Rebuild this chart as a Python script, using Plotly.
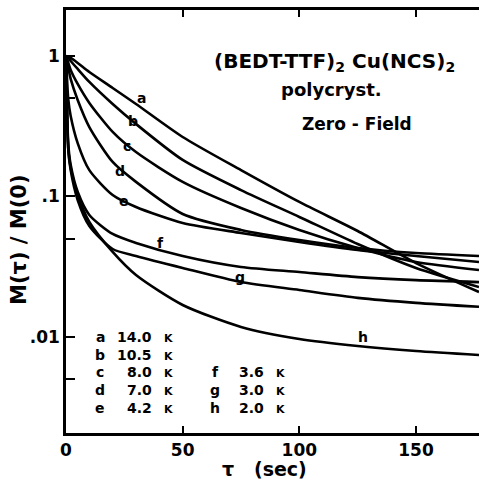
import plotly.graph_objects as go

# time (sec)
t = [0, 1, 2, 5, 10, 20, 30, 50, 75, 100, 125, 150, 177]

# M(tau)/M(0) for each temperature curve
curve_a = [1.0, 0.984, 0.968, 0.892, 0.769, 0.592, 0.455, 0.265, 0.154, 0.0914, 0.0568, 0.0336, 0.0209]
curve_b = [1.0, 0.968, 0.921, 0.808, 0.653, 0.455, 0.328, 0.182, 0.111, 0.0715, 0.0459, 0.0310, 0.0227]
curve_c = [1.0, 0.892, 0.795, 0.632, 0.463, 0.288, 0.207, 0.127, 0.0828, 0.0578, 0.0430, 0.0342, 0.0300]
curve_d = [1.0, 0.821, 0.686, 0.486, 0.312, 0.176, 0.127, 0.0751, 0.0578, 0.0490, 0.0430, 0.0396, 0.0377]
curve_e = [1.0, 0.486, 0.374, 0.240, 0.154, 0.1025, 0.0842, 0.0648, 0.0550, 0.0475, 0.0416, 0.0377, 0.0342]
curve_f = [1.0, 0.233, 0.168, 0.108, 0.0739, 0.0541, 0.0467, 0.0377, 0.0315, 0.0290, 0.0267, 0.0254, 0.0246]
curve_g = [1.0, 0.214, 0.154, 0.0944, 0.0617, 0.0423, 0.0377, 0.0310, 0.0246, 0.0216, 0.0190, 0.0175, 0.0164]
curve_h = [1.0, 0.214, 0.160, 0.1025, 0.0658, 0.0403, 0.0276, 0.0169, 0.0118, 0.00968, 0.00863, 0.00795, 0.00745]

curves = [curve_a, curve_b, curve_c, curve_d, curve_e, curve_f, curve_g, curve_h]
letters = ["a", "b", "c", "d", "e", "f", "g", "h"]
temps = ["14.0", "10.5", "8.0", "7.0", "4.2", "3.6", "3.0", "2.0"]

x_ticks = [0, 50, 100, 150]
y_tickvals = [0.01, 0.1, 1]
y_ticktext = [".01", ".1", "1"]
y_minor_ticks = [0.005, 0.05, 0.5]

FONT = "DejaVu Sans"
W, H = 479, 482
# plot area in page pixels
L, R, T, B = 66, 479, 10, 433


def px(x, y):
    return (x - L) / (R - L), (B - y) / (B - T)


def note(text, x, y, size, xanchor="center", angle=0):
    xp, yp = px(x, y)
    return dict(x=xp, y=yp, xref="paper", yref="paper", text=text, showarrow=False,
                xanchor=xanchor, yanchor="middle", textangle=angle,
                font=dict(family=FONT, size=size, color="black"))


fig = go.Figure()
for ys in curves:
    fig.add_trace(go.Scatter(x=t, y=ys, mode="lines",
                             line=dict(color="black", width=2.6, shape="spline", smoothing=0.7),
                             showlegend=False, hoverinfo="skip"))

annotations = []
# curve letter labels (page pixel positions)
label_pos = [(141, 98), (133, 121), (127, 146), (120, 171), (124, 201), (160, 243), (240, 277), (363, 337)]
for lt, (x, y) in zip(letters, label_pos):
    annotations.append(note("<b>%s</b>" % lt, x, y, 14))

# legend block
rows_y = [337, 355, 372, 390, 408]
for i, (lt, tv) in enumerate(zip(letters, temps)):
    if i < 5:
        y = rows_y[i]
        xl, xn, xk = 100, 154, 168
    else:
        y = rows_y[i - 3]
        xl, xn, xk = 215, 266, 280
    annotations.append(note("<b>%s</b>" % lt, xl, y, 14))
    annotations.append(note("<b>%s</b>" % tv, xn, y, 14, xanchor="right"))
    annotations.append(note("<b>K</b>", xk, y + 1, 11))

# title texts
annotations.append(note("<b>(BEDT-TTF)<sub>2</sub> Cu(NCS)<sub>2</sub></b>", 334, 62, 20))
annotations.append(note("<b>polycryst.</b>", 331, 89, 18))
annotations.append(note("<b>Zero - Field</b>", 357, 124, 17))

# axis titles
annotations.append(note("<b>M(τ) / M(0)</b>", 19, 240, 21, angle=-90))
annotations.append(note("<b>τ   (sec)</b>", 264, 469, 19))

fig.update_layout(
    width=W, height=H,
    margin=dict(l=L, r=W - R, t=T, b=H - B, pad=0),
    paper_bgcolor="white", plot_bgcolor="white",
    annotations=annotations,
    xaxis=dict(range=[0, 177], tickvals=x_ticks, ticktext=["<b>%d</b>" % v for v in x_ticks],
               ticks="inside", ticklen=7, tickwidth=2, tickcolor="black",
               showline=True, linecolor="black", linewidth=2.5, mirror="ticks",
               showgrid=False, zeroline=False, automargin=False,
               tickfont=dict(family=FONT, size=17, color="black")),
    yaxis=dict(type="log", range=[-2.683, 0.327], tickvals=y_tickvals,
               ticktext=["<b>%s</b>" % s for s in y_ticktext],
               ticks="inside", ticklen=9, tickwidth=2, tickcolor="black",
               minor=dict(tickmode="array", tickvals=y_minor_ticks, ticks="inside",
                          ticklen=9, tickwidth=2, tickcolor="black", showgrid=False),
               showline=True, linecolor="black", linewidth=2.5, mirror=False,
               showgrid=False, zeroline=False, automargin=False,
               tickfont=dict(family=FONT, size=17, color="black")),
)

fig.write_html("out.html", config={"displayModeBar": False},
               post_script="document.body.style.margin='0';document.body.style.overflow='hidden';")
